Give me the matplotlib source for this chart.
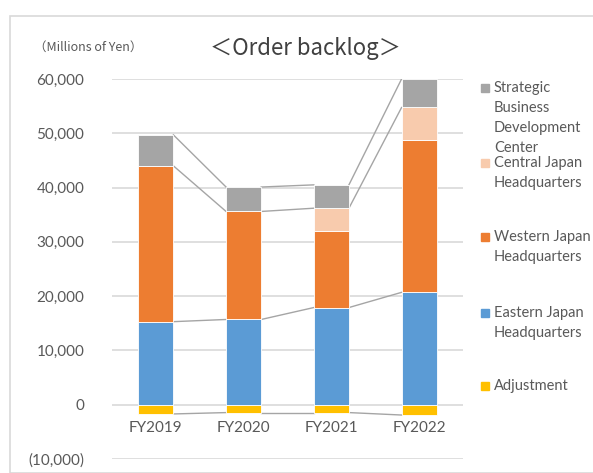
import matplotlib.pyplot as plt
from matplotlib.patches import Rectangle
import numpy as np

plt.rcParams['font.family'] = ['Lato', 'Noto Sans CJK JP', 'DejaVu Sans']

years = ["FY2019", "FY2020", "FY2021", "FY2022"]
adjustment = [-1700, -1450, -1450, -1900]
eastern = [15300, 15700, 17900, 20700]
western = [28700, 19900, 14100, 28100]
central = [0, 0, 4200, 5950]
strategic = [5700, 4500, 4300, 5250]

colors = {
    "adj": "#FFC000",
    "east": "#5B9BD5",
    "west": "#ED7D31",
    "central": "#F8CBAD",
    "strat": "#A5A5A5",
}

W, H = 593, 473
fig = plt.figure(figsize=(W / 100, H / 100), dpi=100)


def fx(px):
    return px / W


def fy(py):
    return 1 - py / H


# chart frame
fig.patches.append(Rectangle((fx(10), 0), 1, fy(16), transform=fig.transFigure,
                             fill=False, edgecolor="#d9d9d9", linewidth=1.2))

ax = fig.add_axes([fx(112), fy(459), fx(463) - fx(112), fy(79) - fy(459)])

x = np.arange(len(years))
bw = 0.4
e = np.array(eastern)
w = np.array(western)
c = np.array(central)
s = np.array(strategic)
a = np.array(adjustment)

kw = dict(width=bw, edgecolor="white", linewidth=0.6, zorder=3)
ax.bar(x, a, color=colors["adj"], **kw)
ax.bar(x, e, color=colors["east"], **kw)
ax.bar(x, w, bottom=e, color=colors["west"], **kw)
ax.bar(x, c, bottom=e + w, color=colors["central"], **kw)
ax.bar(x, s, bottom=e + w + c, color=colors["strat"], **kw)

# series lines
for tops in (a, e, e + w + c, e + w + c + s):
    for i in range(len(years) - 1):
        ax.plot([x[i] + bw / 2, x[i + 1] - bw / 2], [tops[i], tops[i + 1]],
                color="#a5a5a5", linewidth=1.0, zorder=2)

ax.set_xlim(-0.5, len(years) - 0.5)
ax.set_ylim(-10000, 60000)
ax.set_yticks(np.arange(-10000, 60001, 10000))
ax.set_yticklabels(["(10,000)"] + ["{:,}".format(v) for v in range(0, 60001, 10000)])
ax.yaxis.grid(True, color="#d9d9d9", linewidth=1.2, zorder=0)
ax.set_axisbelow(True)
for sp in ax.spines.values():
    sp.set_visible(False)
ax.spines['bottom'].set_position(('data', 0))
ax.set_xticks(x)
ax.set_xticklabels(years)
ax.tick_params(axis='both', length=0, labelsize=11, labelcolor="#595959")
ax.tick_params(axis='y', pad=20)
ax.tick_params(axis='x', pad=12)

fig.text(fx(305), fy(48), "＜Order backlog＞", ha="center", va="center",
         fontsize=16, color="#404040", family=['Noto Sans CJK JP', 'DejaVu Sans'])
fig.text(fx(88), fy(47), "（Millions of Yen）", ha="center", va="center",
         fontsize=9, color="#595959", family=['Noto Sans CJK JP', 'DejaVu Sans'])

legend = [
    ("Strategic\nBusiness\nDevelopment\nCenter", colors["strat"], 88),
    ("Central Japan\nHeadquarters", colors["central"], 163),
    ("Western Japan\nHeadquarters", colors["west"], 237),
    ("Eastern Japan\nHeadquarters", colors["east"], 313),
    ("Adjustment", colors["adj"], 386),
]
for label, col, py in legend:
    fig.patches.append(Rectangle((fx(481), fy(py + 4)), fx(8), fy(0) - fy(8),
                                 transform=fig.transFigure, color=col))
    fig.text(fx(494), fy(py - 7), label, ha="left", va="top", fontsize=10.5,
             color="#595959", linespacing=1.55)

fig.savefig("out.png", dpi=100)
